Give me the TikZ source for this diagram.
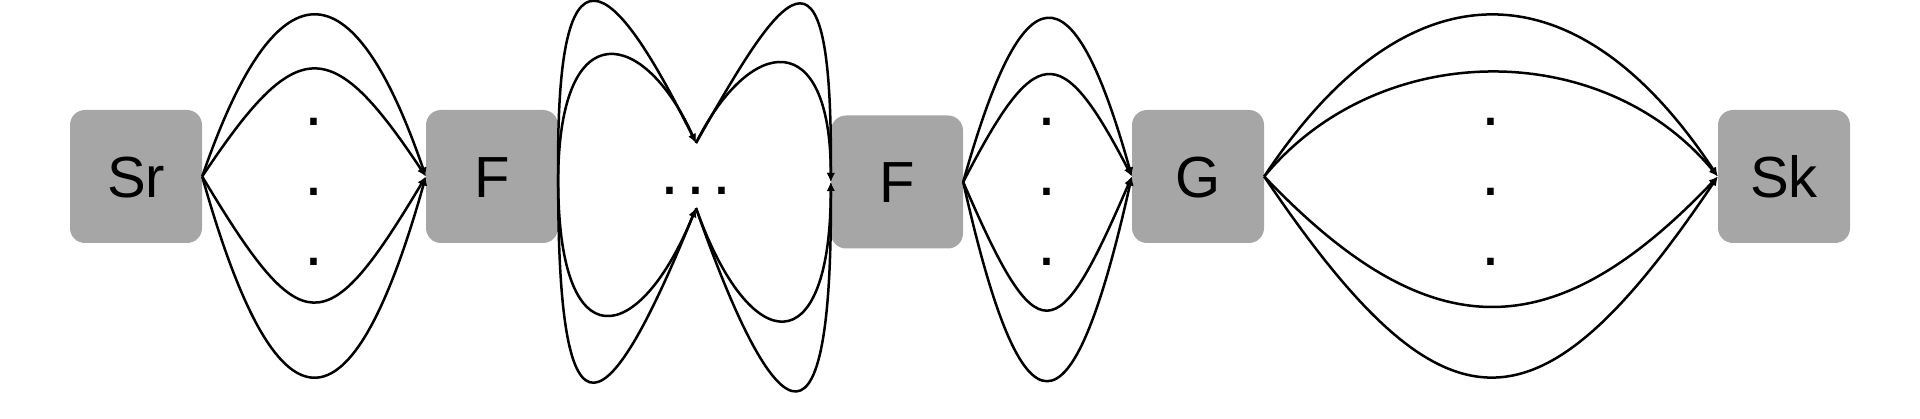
\documentclass[tikz,border=0pt]{standalone}
\usepackage{fontspec}
\setmainfont{Liberation Sans}
\usetikzlibrary{arrows.meta}
\definecolor{boxgray}{RGB}{166,166,166}
\begin{document}
\begin{tikzpicture}[x=1pt,y=-1pt,
  blk/.style={fill=boxgray, rounded corners=15pt, minimum width=132pt, minimum height=133pt,
    inner sep=0pt, text height=42pt, text depth=0pt, font=\fontsize{58}{60}\selectfont},
  arc/.style={line width=2.5pt, -{Latex[length=9pt,width=8pt]}, line join=round},
  vdot/.style={inner sep=0pt, font=\fontsize{68}{70}\selectfont}]
\useasboundingbox (0,0) rectangle (1920,419);
% boxes
\node[blk] (Sr) at (136,176.5) {Sr};
\node[blk] (F1) at (492,176.5) {F};
\node[blk] (F2) at (897,182) {F};
\node[blk] (G)  at (1198,176.5) {G};
\node[blk] (Sk) at (1784,176.5) {Sk};
% vertical dots
\node[vdot] (a1) at (314,121.5) {.};
\node[vdot] (a2) at (314,191.5) {.};
\node[vdot] (a3) at (314,261.5) {.};
\node[vdot] (b1) at (1047,121.5) {.};
\node[vdot] (b2) at (1047,191.5) {.};
\node[vdot] (b3) at (1047,261.5) {.};
\node[vdot] (c1) at (1491,121.5) {.};
\node[vdot] (c2) at (1491,191.5) {.};
\node[vdot] (c3) at (1491,261.5) {.};
% horizontal dots
\node[vdot] (dd) at (696,191) {.\kern7.1pt.\kern7.1pt.};
\coordinate (dt) at (696,143);
\coordinate (db) at (696,208);
% Sr -> F1
\draw[arc] (Sr.east) .. controls +(74,-215) and +(-74,-215) .. (F1.west);
\draw[arc] (Sr.east) .. controls +(95,-143) and +(-95,-143) .. (F1.west);
\draw[arc] (Sr.east) .. controls +(100,167) and +(-100,167) .. (F1.west);
\draw[arc] (Sr.east) .. controls +(75,267) and +(-75,267) .. (F1.west);
% F1 -> dots
\draw[arc] (F1.east) .. controls +(-3,-276.5) and +(-71,-143) .. (dt);
\draw[arc] (F1.east) .. controls +(2,-166.5) and +(-51,-113) .. (dt);
\draw[arc] (F1.east) .. controls +(-1,293.5) and +(-86,212) .. (db);
\draw[arc] (F1.east) .. controls +(-1,189.5) and +(-56,138) .. (db);
% dots -> F2
\draw[arc] (dt) .. controls +(84,-148) and +(2,-272) .. (F2.west);
\draw[arc] (dt) .. controls +(54,-108) and +(0,-157) .. (F2.west);
\draw[arc] (db) .. controls +(74,212) and +(2,308) .. (F2.west);
\draw[arc] (db) .. controls +(54,152) and +(0,183) .. (F2.west);
% F2 -> G
\draw[arc] (F2.east) .. controls +(60,-214) and +(-60,-214) .. (G.west);
\draw[arc] (F2.east) .. controls +(72,-139) and +(-72,-139) .. (G.west);
\draw[arc] (F2.east) .. controls +(75,174) and +(-75,174) .. (G.west);
\draw[arc] (F2.east) .. controls +(60,268) and +(-60,268) .. (G.west);
% G -> Sk
\draw[arc] (G.east) .. controls +(142,-215) and +(-142,-215) .. (Sk.west);
\draw[arc] (G.east) .. controls +(115,-139) and +(-115,-139) .. (Sk.west);
\draw[arc] (G.east) .. controls +(165,173) and +(-165,173) .. (Sk.west);
\draw[arc] (G.east) .. controls +(180,267) and +(-180,267) .. (Sk.west);
\end{tikzpicture}
\end{document}
